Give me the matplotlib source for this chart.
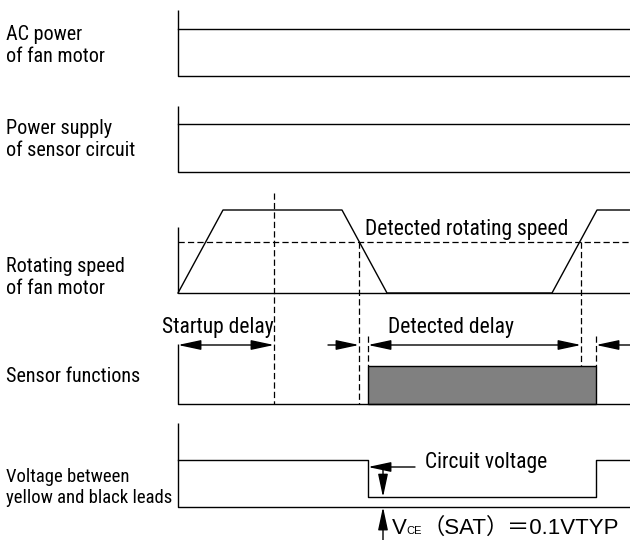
import matplotlib
matplotlib.use("Agg")
import matplotlib.pyplot as plt
from matplotlib import font_manager
from matplotlib.patches import Rectangle, FancyArrowPatch

# ---------------- data (time units, t=0 at the left axis) ----------------
row_labels = ["AC power\nof fan motor",
              "Power supply\nof sensor circuit",
              "Rotating speed\nof fan motor",
              "Sensor functions",
              "Voltage between\nyellow and black leads"]
t_end = 452
speed_time = [0, 45, 164, 209, 374, 419, 452]
speed_level = [0, 1, 1, 0, 0, 1, 1]
detect_level = 0.61
startup_end = 96
detect_down = 181
sensor_on = 190
detect_up = 403
sensor_off = 418
voltage_time = [0, 190, 190, 418, 418, 452]
voltage_level = [1, 1, 0.21, 0.21, 1, 1]
annot_texts = ["Detected rotating speed", "Startup delay", "Detected delay",
               "Circuit voltage"]

# ---------------- fonts ----------------
names = {f.name for f in font_manager.fontManager.ttflist}
narrow = "Roboto Condensed"
for cand in ["Roboto Condensed", "Archivo Narrow", "PT Sans Narrow", "Liberation Sans"]:
    if cand in names:
        narrow = cand
        break
lab_font = [narrow, "DejaVu Sans"]
plain_font = ["Liberation Sans", "Noto Sans CJK JP", "DejaVu Sans"]
label_fs = [14.5, 14.5, 14.5, 14.5, 13.5]
FS_ANN = 15.5
FS_V = 16

plt.rcParams["lines.scale_dashes"] = False

fig = plt.figure(figsize=(6.3, 5.4), dpi=100)
ax = fig.add_axes([0, 0, 1, 1])
ax.set_xlim(0, 630)
ax.set_ylim(540, 0)
ax.axis("off")

X0 = 178
def X(t):
    return X0 + t

# rows: (axis top, high level y, base y)
rows = [(10, 29, 76), (106, 124, 172), (227, 210, 293), (344, 366, 404), (423, 460, 507)]
def Y(r, lev):
    top, hi, base = rows[r]
    return base - lev * (base - hi)

LW = 1.0
K = "black"
DASH = dict(color=K, lw=0.9, dashes=(4.5, 2.3))

# axes of each row
for r, (top, hi, base) in enumerate(rows):
    ax.plot([X0, X0, X(t_end)], [top, base, base], color=K, lw=LW, solid_capstyle="butt")

# rows 1, 2 : constant high
for r in (0, 1):
    ax.plot([X(0), X(t_end)], [Y(r, 1), Y(r, 1)], color=K, lw=LW)

# row 3 : rotating speed
ax.plot([X(t) for t in speed_time], [Y(2, v) for v in speed_level], color=K, lw=LW)
ax.plot([X(0), X(t_end)], [Y(2, detect_level)] * 2, **DASH)

# row 4 : sensor functions
ax.add_patch(Rectangle((X(sensor_on), Y(3, 1)), sensor_off - sensor_on, Y(3, 0) - Y(3, 1),
                       facecolor="#808080", edgecolor=K, lw=LW))

# row 5 : voltage
ax.plot([X(t) for t in voltage_time], [Y(4, v) for v in voltage_level], color=K, lw=LW)

# dashed verticals
ax.plot([X(startup_end)] * 2, [193, Y(3, 0)], **DASH)
ax.plot([X(detect_down)] * 2, [Y(2, detect_level), Y(3, 0)], **DASH)
ax.plot([X(detect_up)] * 2, [Y(2, detect_level), Y(3, 1)], **DASH)
ax.plot([X(sensor_on)] * 2, [336, Y(3, 1)], **DASH)
ax.plot([X(sensor_off)] * 2, [336, Y(3, 1)], **DASH)

# arrows
def arrow(x1, y1, x2, y2, style="-|>"):
    st = style + ",head_length=1.4,head_width=0.3"
    ax.add_patch(FancyArrowPatch((x1, y1), (x2, y2), arrowstyle=st, mutation_scale=10,
                                 color=K, lw=LW, shrinkA=0, shrinkB=0))

ya = 345
arrow(X(0), ya, X(startup_end), ya, "<|-|>")
arrow(328, ya, X(detect_down), ya)
arrow(X(sensor_on), ya, X(detect_up), ya, "<|-|>")
arrow(630, ya, X(sensor_off), ya)

arrow(415, 467, X(sensor_on), 467)
arrow(383, 467, 383, Y(4, voltage_level[2]))
arrow(383, 540, 383, Y(4, 0))

# left labels (baselines)
label_base = [40.5, 134.5, 272.5, 382, 482]
for lab, yb, fs in zip(row_labels, label_base, label_fs):
    for i, ln in enumerate(lab.split("\n")):
        ax.text(6, yb + 21 * i, ln, fontsize=fs, family=lab_font, va="baseline", ha="left")

# annotation texts
ax.text(365, 235, annot_texts[0], fontsize=FS_ANN, family=lab_font, va="baseline")
ax.text(162, 333, annot_texts[1], fontsize=FS_ANN, family=lab_font, va="baseline")
ax.text(388, 333, annot_texts[2], fontsize=FS_ANN, family=lab_font, va="baseline")
ax.text(425, 468, annot_texts[3], fontsize=FS_ANN, family=lab_font, va="baseline")

# V_CE(SAT) text
yv = 534
ax.text(392, yv, "V", fontsize=FS_V, family=plain_font, va="baseline")
ax.text(406, yv, "CE", fontsize=8, family=plain_font, va="baseline")
ax.text(423, yv, "（SAT）", fontsize=FS_V, family=plain_font, va="baseline")
ax.text(507, yv, "＝0.1VTYP", fontsize=FS_V, family=plain_font, va="baseline")

fig.savefig("out.png", dpi=100)
